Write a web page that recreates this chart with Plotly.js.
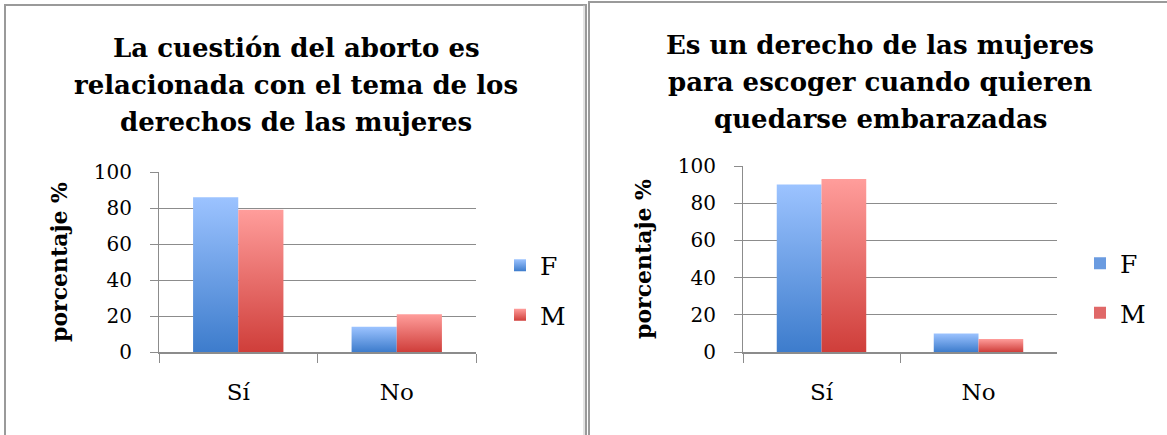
<!DOCTYPE html>
<html>
<head>
<meta charset="utf-8">
<script src="https://cdn.plot.ly/plotly-3.0.1.min.js"></script>
<style>
html,body{margin:0;padding:0;background:#fff;}
#chart{width:1167px;height:435px;}
</style>
</head>
<body>
<div id="chart"></div>
<script>
// ---- data ----
var categories = ['Sí', 'No'];
var seriesNames = ['F', 'M'];
var chart1F = [86, 14];
var chart1M = [79, 21];
var chart2F = [90, 10];
var chart2M = [93, 7];
var title1Lines = ['La cuestión del aborto es', 'relacionada con el tema de los', 'derechos de las mujeres'];
var title2Lines = ['Es un derecho de las mujeres', 'para escoger cuando quieren', 'quedarse embarazadas'];
var yTitle = 'porcentaje %';
var yTicks = [0, 20, 40, 60, 80, 100];

// ---- layout helpers (pixel -> paper) ----
var W = 1167, H = 435;
function px(x){ return x / W; }
function py(y){ return (H - y) / H; }

var FONT = 'DejaVu Serif, Liberation Serif, serif';
var colF = '#6a9be0', colM = '#e06868';

var traces = [
  {type:'bar', name:seriesNames[0], x:categories, y:chart1F, xaxis:'x', yaxis:'y', marker:{color:colF}, legend:'legend', legendgroup:'a'},
  {type:'bar', name:seriesNames[1], x:categories, y:chart1M, xaxis:'x', yaxis:'y', marker:{color:colM}, legend:'legend', legendgroup:'b'},
  {type:'bar', name:seriesNames[0], x:categories, y:chart2F, xaxis:'x2', yaxis:'y2', marker:{color:colF}, legend:'legend2', legendgroup:'c'},
  {type:'bar', name:seriesNames[1], x:categories, y:chart2M, xaxis:'x2', yaxis:'y2', marker:{color:colM}, legend:'legend2', legendgroup:'d'}
];

function xAxis(domain, anchor){
  return {
    domain: domain, anchor: anchor, type:'category', range:[-0.5, 1.5],
    showline:true, linecolor:'#8c8c8c', linewidth:2,
    ticks:'outside', tickson:'boundaries', ticklen:9, tickcolor:'#8c8c8c', tickwidth:1,
    showgrid:false, zeroline:false,
    tickfont:{family:FONT, size:23, color:'#000'}, ticklabelstandoff:18,
    fixedrange:true
  };
}
function yAxis(domain, anchor){
  return {
    domain: domain, anchor: anchor, range:[0, 100], tickvals:yTicks,
    showline:true, linecolor:'#8c8c8c', linewidth:1,
    ticks:'outside', ticklen:8, tickcolor:'#8c8c8c',
    showgrid:true, gridcolor:'#8c8c8c', gridwidth:1, zeroline:false,
    tickfont:{family:FONT, size:20, color:'#000'}, ticklabelstandoff:14,
    title:{text:yTitle, font:{family:FONT, size:22, color:'#000', weight:'bold'}, standoff:20},
    fixedrange:true
  };
}

var annotations = [];
title1Lines.forEach(function(t, i){
  annotations.push({text:'<b>'+t+'</b>', xref:'paper', yref:'paper', x:px(296), y:py(48 + i*37),
    xanchor:'center', yanchor:'middle', showarrow:false, font:{family:FONT, size:26, color:'#000'}});
});
title2Lines.forEach(function(t, i){
  annotations.push({text:'<b>'+t+'</b>', xref:'paper', yref:'paper', x:px(880), y:py(45 + i*37),
    xanchor:'center', yanchor:'middle', showarrow:false, font:{family:FONT, size:26, color:'#000'}});
});

var legendBase = {font:{family:FONT, size:25, color:'#000'}, bgcolor:'rgba(0,0,0,0)', tracegroupgap:14, itemclick:false, itemdoubleclick:false, yanchor:'middle', xanchor:'left', traceorder:'grouped'};

var layout = {
  width:W, height:H,
  margin:{l:0, r:0, t:0, b:0},
  paper_bgcolor:'#fff', plot_bgcolor:'rgba(0,0,0,0)',
  showlegend:true,
  barmode:'group', bargap:0.43, bargroupgap:0,
  xaxis: xAxis([px(159), px(476)], 'y'),
  yaxis: yAxis([py(352), py(172)], 'x'),
  xaxis2: xAxis([px(743), px(1057)], 'y2'),
  yaxis2: yAxis([py(352), py(166)], 'x2'),
  legend: Object.assign({}, legendBase, {x:px(500), y:py(290)}),
  legend2: Object.assign({}, legendBase, {x:px(1080), y:py(288)}),
  annotations: annotations,
  shapes: [
    {type:'rect', xref:'paper', yref:'paper', x0:px(5), x1:px(586), y0:py(445), y1:py(5), line:{color:'#9a9a9a', width:2}, fillcolor:'rgba(0,0,0,0)', layer:'below'},
    {type:'rect', xref:'paper', yref:'paper', x0:px(589), x1:px(1180), y0:py(445), y1:py(2), line:{color:'#9a9a9a', width:2}, fillcolor:'rgba(0,0,0,0)', layer:'below'},
    {type:'line', xref:'paper', yref:'paper', x0:px(584), x1:px(584), y0:py(445), y1:py(5), line:{color:'#c8c8c8', width:1}, layer:'below'}
  ]
};

var gd = document.getElementById('chart');
Plotly.newPlot(gd, traces, layout, {staticPlot:true, displayModeBar:false}).then(function(){
  var svg = gd.querySelector('svg.main-svg');
  var ns = 'http://www.w3.org/2000/svg';
  var defs = svg.querySelector('defs') || svg.insertBefore(document.createElementNS(ns,'defs'), svg.firstChild);
  function grad(id, top, bottom){
    var g = document.createElementNS(ns, 'linearGradient');
    g.setAttribute('id', id); g.setAttribute('x1','0'); g.setAttribute('y1','0'); g.setAttribute('x2','0'); g.setAttribute('y2','1');
    [[0, top],[1, bottom]].forEach(function(s){
      var st = document.createElementNS(ns, 'stop');
      st.setAttribute('offset', s[0]); st.setAttribute('stop-color', s[1]);
      g.appendChild(st);
    });
    defs.appendChild(g);
  }
  grad('gradF', '#9cc3ff', '#3d7ccc');
  grad('gradM', '#ff9d9b', '#cf3e3a');
  gd.querySelectorAll('.barlayer .trace').forEach(function(tr){
    var d = tr.__data__; var name = d && d[0] && d[0].trace ? d[0].trace.name : null;
    if(!name) return;
    var id = name === seriesNames[0] ? 'gradF' : 'gradM';
    tr.querySelectorAll('path').forEach(function(p){ p.style.fill = 'url(#'+id+')'; });
  });
  gd.querySelectorAll('.legend .traces').forEach(function(tr){
    var t = tr.querySelector('.legendtext');
    if(!t) return;
    var id = t.textContent === seriesNames[0] ? 'gradF' : 'gradM';
    tr.querySelectorAll('.legendpoints path').forEach(function(p){ p.style.fill = 'url(#'+id+')'; p.style.stroke = 'none'; });
  });
});
</script>
</body>
</html>
